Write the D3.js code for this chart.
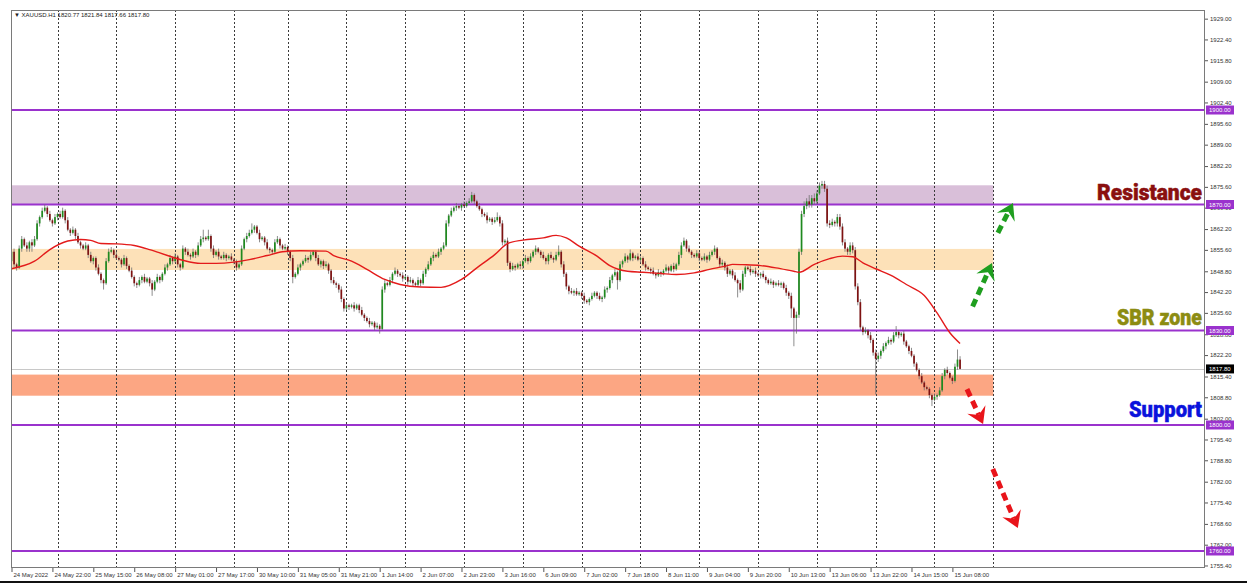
<!DOCTYPE html>
<html><head><meta charset="utf-8">
<script src="https://cdn.jsdelivr.net/npm/d3@7"></script>
<style>body{margin:0;background:#fff}svg{display:block}</style>
</head><body><svg id="c" width="1247" height="583"></svg>
<script>
// ---------- DATA ----------
const symbolTitle = "XAUUSD.H1";
const lastOHLC = ["1820.77", "1821.84", "1817.66", "1817.80"];
const firstOpen = 1852;
const closes = [
1855,1851,1850,1856,1859,1857,1856,1858,1857,1859,
1864,1866,1868,1869,1867,1865,1864,1866,1867,1866,
1868,1865,1862,1861,1862,1860,1858,1857,1856,1857,
1854,1852,1853,1850,1848,1846,1845,1852,1855,1855.5,
1854,1853,1852.5,1851,1853,1850.5,1849,1847,1845,1844.5,
1846,1847,1845.5,1846.5,1845,1843,1845.5,1847,1846,1848,
1850,1851,1853,1852,1853.5,1851,1850,1856,1855,1854,
1853.5,1855,1854,1857,1859,1859.5,1859,1860,1856,1854,
1855,1853.5,1853,1854,1853,1853.5,1852.5,1852,1850,1851,
1856,1859,1860,1861,1862,1863,1861,1859,1859.5,1858,
1856,1855.5,1855,1858,1859,1857,1856,1856.5,1855,1853,
1847,1848,1850,1851,1852,1853,1852.5,1854,1855,1853,
1851,1852,1850.5,1851,1849,1846,1845,1844.5,1843,1840,
1837,1838,1837.5,1838,1837,1838,1836.5,1835,1834,1833,
1832,1832.5,1831,1831.5,1830.5,1843,1845,1844.5,1846,1848,
1849,1848,1847.5,1846.5,1847,1845.5,1846,1845,1844.5,1846,
1845,1848,1849.5,1851,1853,1854,1853.5,1855,1856,1857,
1864,1866.5,1868,1869,1869.5,1869,1870,1869.5,1870.5,1871,
1873,1871,1869.5,1868.5,1867,1866.5,1865,1865.5,1864.5,1865,
1866,1864,1858,1858.5,1851.5,1849.5,1850.5,1850,1851,1850.5,
1852,1853,1852,1853.5,1855,1856,1855,1854,1853,1852,
1854,1853,1852.5,1854,1855,1851,1848,1844,1842.5,1842,
1842.5,1841.5,1842,1841,1839.5,1839,1840,1841,1842,1841,
1840,1840.5,1843,1843.5,1846,1847.5,1848.5,1846,1851,1852,
1853.5,1852.5,1854.5,1853,1853.5,1852.5,1853,1851,1850,1849.5,
1849,1848,1847.5,1848.5,1848,1849,1850,1849,1850.5,1849.5,
1851,1854,1857,1858.5,1856,1855,1854,1853.5,1854.5,1853,
1852.5,1853.5,1852.5,1854,1855,1856,1853,1851,1851.5,1850,
1848,1849,1847.5,1846,1845,1843,1848,1850,1849.5,1848.5,
1849,1848,1847.5,1848,1847,1846,1845,1845.5,1844.5,1845,
1844.5,1845,1843.5,1842,1841,1837,1834,1835,1855,1867,
1869.5,1871,1870,1872,1871,1873.5,1876,1876.5,1875,1864,
1863.5,1864.5,1864,1866,1863,1858,1856,1855,1857,1855.5,
1844,1839,1831,1829.5,1830,1828.5,1827,1823,1821,1822,
1823.5,1825,1826,1827,1826.5,1828.5,1829.5,1828.5,1829,1826.5,
1825,1823.5,1822,1819.5,1817.5,1815.5,1813.5,1812,1811.5,1809.5,
1808,1809,1809.5,1811,1815.5,1817.5,1816.5,1815,1814,1818.5,
1820.77,1817.8
];
const upperWick = [
1.5,1,0.5,1,1,0.5,1,0.5,1,1, 1,0.5,1,1,0.5,1,0.5,1,0.5,1,
1,0.5,1,0.5,1,0.5,1,0.5,0.5,1, 0.5,1,0.5,0.5,1,0.5,0.5,1,1,1,
0.5,1,0.5,0.5,1,0.5,0.5,1,0.5,0.5, 1,0.5,1,0.5,0.5,1,0.5,1,0.5,0.5,
1,0.5,1,0.5,1,0.5,0.5,1,0.5,1, 0.5,1,0.5,1,1,2.5,0.5,2,0.5,1,
0.5,1,0.5,1,0.5,0.5,1,0.5,0.5,1, 1,0.5,1,1,2,0.5,0.5,1,0.5,0.5,
1,0.5,0.5,1,1,0.5,0.5,1,0.5,0.5, 1,0.5,1,0.5,0.5,1,0.5,1,0.5,0.5,
1,0.5,0.5,1,0.5,0.5,1,0.5,0.5,1, 0.5,1,0.5,0.5,1,0.5,0.5,1,0.5,0.5,
1,0.5,0.5,1,0.5,1,1,0.5,1,0.5, 1,0.5,0.5,1,0.5,0.5,1,0.5,0.5,1,
0.5,1,0.5,1,0.5,1,0.5,1,0.5,1, 1,0.5,1,0.5,1,0.5,0.5,1,0.5,1,
1,0.5,0.5,1,0.5,0.5,1,0.5,0.5,1, 1.5,0.5,1,0.5,1,0.5,1,0.5,0.5,1,
0.5,1,0.5,1,0.5,1,0.5,0.5,1,0.5, 0.5,1,0.5,1,2,0.5,1,0.5,0.5,1,
0.5,1,0.5,0.5,1,0.5,0.5,1,0.5,0.5, 1,0.5,1,0.5,1,0.5,1,0.5,1,0.5,
1,0.5,1.2,0.5,0.5,1,0.5,0.5,1,0.5, 0.5,1,0.5,1,0.5,0.5,1,0.5,0.5,1,
0.5,1,1,1,0.5,1,0.5,0.5,1,0.5, 0.5,1,0.5,1,0.5,1,0.5,0.5,1,0.5,
1,0.5,0.5,1,0.5,1,1,0.5,0.5,1, 0.5,1,0.5,0.5,1,0.5,0.5,1,0.5,0.5,
1,0.5,0.5,1,0.5,1,0.5,1,1,1, 1.5,1,2,1,1.5,1,1,1,1,1,
1,1,0.5,1,1,1,1,0.5,1,1, 1,1,1,0.5,1,0.5,1,0.5,1,1,
0.5,1,0.5,1,0.5,1,1.9,0.5,0.5,1, 0.5,0.5,1,0.5,0.5,0.5,1,0.5,0.5,0.5,
0.5,1,0.5,1,1,0.5,1,0.5,0.5,1, 3.2,1.07
];
const lowerWick = [
2,1,1,0.5,1,0.5,1,1,2,0.5, 0.5,1,0.5,0.5,1,0.5,1,0.5,1,0.5,
0.5,1,0.5,1,0.5,1,0.5,1,0.5,0.5, 1,0.5,1,1,0.5,1,2,0.5,0.5,0.5,
1,0.5,0.5,1,0.5,1,0.5,0.5,1,1, 0.5,1,0.5,0.5,1,2,0.5,0.5,1,0.5,
0.5,1,0.5,1,0.5,1,1,0.5,1,0.5, 1,0.5,1,0.5,0.5,1,0.5,0.5,1,1,
0.5,1,0.5,0.5,1,0.5,0.5,1,1,0.5, 0.5,0.5,1,0.5,0.5,1,0.5,1,0.5,1,
0.5,1,1,0.5,0.5,1,0.5,0.5,1,1, 2,0.5,0.5,1,0.5,0.5,1,0.5,0.5,1,
0.5,1,1,0.5,1,1,0.5,1,1,1, 1,0.5,1,0.5,1,0.5,1,0.5,1,0.5,
1,0.5,1,0.5,1.5,0.5,1,0.5,0.5,1, 0.5,1,0.5,1,0.5,1,0.5,1,0.5,0.5,
1,0.5,1,0.5,0.5,1,0.5,0.5,1,0.5, 0.5,1,0.5,0.5,1,0.5,1,0.5,0.5,0.5,
0.5,1,0.5,0.5,1,0.5,1,0.5,1,0.5, 0.5,1,1,1,1,1,0.5,1,0.5,1,
1,0.5,1,0.5,0.5,1,0.5,1,0.5,1, 1,0.5,1,0.5,0.5,1,1,1,1,0.5,
1,0.5,0.5,1,1,0.5,1,0.5,0.5,1, 0.5,1,0.5,1,0.5,1,0.5,3,0.5,1,
0.5,1,0.5,1,0.5,0.5,1,0.5,1,0.5, 1,0.5,1,0.5,1,0.5,0.5,1,0.5,1,
0.5,0.5,1,0.5,1,0.5,1,0.5,0.5,1, 0.5,0.5,1,0.5,0.5,1,0.5,1,0.5,1,
1,0.5,1,0.5,4.5,1,0.5,1,0.5,1, 0.5,1,0.5,1,0.5,1,0.5,0.5,1,0.5,
0.5,1,0.5,1,1,3,9,5,1,1, 1,1,1,1,1,1,0.5,1,1,1,
1,0.5,1,1,1,1,1,1,1,1, 1,1,1,1,0.5,1,1,1,11.3,1,
1,0.5,1,0.5,1,0.5,0.5,1,0.5,1, 0.5,1,0.5,1,0.5,1,0.5,1,0.5,1,
2,0.5,1,0.5,0.5,1,0.5,0.5,1,0.5, 1,0.14
];
// moving average (bar index, value)
const maBars = [0,9,15,22,27,31,35,41,48,54,61,67,74,80,87,93,100,106,113,123,126,133,139,146,152,160,168,176,182,189,194,200,208,213,217,222,229,234,241,247,254,260,267,273,280,282,286,293,299,306,308,314,320,325,329,333,338,344,350,357,362,367,371];
const maValues = [1849.6,1852,1855.7,1858.4,1858.9,1858.6,1857.6,1857.5,1857,1855.7,1853.8,1852.3,1851.3,1851.3,1851.7,1852.5,1853.8,1855,1855.3,1855.2,1853.8,1852,1849.4,1846.2,1844.6,1843.8,1843.7,1846.2,1849.9,1854.1,1857.6,1858.7,1859.4,1860.2,1859.4,1856.8,1853.6,1850.6,1848.8,1848.5,1848.1,1847.8,1848.3,1849.4,1850.6,1851,1850.9,1850.6,1849.9,1848.8,1848.5,1851,1852.8,1853.6,1853.4,1851.5,1849.6,1847.5,1844.6,1841.1,1835.6,1829.3,1825.9];

const timeLabels = ["24 May 2022","24 May 22:00","25 May 15:00","26 May 08:00","27 May 01:00","27 May 17:00","30 May 10:00","31 May 05:00","31 May 21:00","1 Jun 14:00","2 Jun 07:00","2 Jun 23:00","3 Jun 16:00","6 Jun 09:00","7 Jun 02:00","7 Jun 18:00","8 Jun 11:00","9 Jun 04:00","9 Jun 20:00","10 Jun 13:00","13 Jun 06:00","13 Jun 22:00","14 Jun 15:00","15 Jun 08:00"];
const timeLabelBars = [0,16,32,48,64,80,96,112,128,144,160,176,192,208,224,240,256,272,288,304,320,336,352,368];
const daySeparatorBars = [18,41,64,87,108,131,154,177,200,223,246,269,292,315,338,361,384];

const priceTicks = [1929.00,1922.40,1915.80,1909.00,1902.40,1895.60,1889.00,1882.20,1875.60,1869.00,1862.20,1855.60,1848.80,1842.20,1835.60,1828.80,1822.20,1815.40,1808.80,1802.00,1795.40,1788.80,1782.00,1775.40,1768.60,1762.00,1755.40];

const levels = [1900, 1870, 1830, 1800, 1760];
const currentPrice = 1817.80;

const zoneLow  = [1870.0, 1849.2, 1809.3];
const zoneHigh = [1876.1, 1855.9, 1816.0];
const zoneEndBar = 384;

const annotationText  = ["Resistance", "SBR zone", "Support"];
const annotationLevel = [1870, 1830, 1800];

const arrowKind    = ["up", "up", "down", "down"];
const arrowFromBar = [375.9, 385.8, 373.7, 383.8];
const arrowFromVal = [1837.6, 1861.0, 1811.4, 1786.0];
const arrowToBar   = [383.5, 391.7, 380.0, 393.6];
const arrowToVal   = [1851.4, 1870.5, 1800.3, 1767.3];

// ---------- STYLE / LAYOUT ----------
const W = 1247, H = 583;
const L = 11, R = 1205, T = 10, B = 568;
const bullColor = "#1f8a1f", bearColor = "#7e1212", wickColor = "#707070";
const levelColor = "#9a32cd";
const zoneColors = ["#d9bfd9", "#fde1b8", "#fca683"];
const annColors = ["#8a0f0f", "#8c8c12", "#0a12dc"];
const annWidths = [105, 85, 73];
const annOffsets = [5, 5, 8];
const arrowColors = {up: "#1f9e1f", down: "#e8141a"};
const smallFont = "'Liberation Sans', Arial, sans-serif";

const svg = d3.select("#c");
svg.append("rect").attr("width", W).attr("height", H).attr("fill", "#fff");

const x = d3.scaleLinear().domain([-0.2, 466.8]).range([L, R]);
const y = d3.scaleLinear().domain([1754.6, 1931.75]).range([B, T]);

svg.append("defs").append("clipPath").attr("id", "clip")
  .append("rect").attr("x", L).attr("y", T).attr("width", R - L).attr("height", B - T);
const plot = svg.append("g").attr("clip-path", "url(#clip)");

// zones
plot.selectAll("rect.zone").data(zoneLow).join("rect").attr("class", "zone")
  .attr("x", L).attr("width", (d, i) => x(zoneEndBar) - L)
  .attr("y", (d, i) => y(zoneHigh[i])).attr("height", (d, i) => y(zoneLow[i]) - y(zoneHigh[i]))
  .attr("fill", (d, i) => zoneColors[i]);

// day separators
plot.selectAll("line.sep").data(daySeparatorBars).join("line")
  .attr("x1", d => Math.round(x(d)) + 0.5).attr("x2", d => Math.round(x(d)) + 0.5)
  .attr("y1", T).attr("y2", B).attr("stroke", "#3a3a3a").attr("stroke-width", 1)
  .attr("stroke-dasharray", "2,2");

// current price line
plot.append("line").attr("x1", L).attr("x2", R)
  .attr("y1", Math.round(y(currentPrice)) + 0.5).attr("y2", Math.round(y(currentPrice)) + 0.5)
  .attr("stroke", "#c8c8c8").attr("stroke-width", 1);

// horizontal levels
plot.selectAll("line.lvl").data(levels).join("line")
  .attr("x1", L).attr("x2", R).attr("y1", d => y(d)).attr("y2", d => y(d))
  .attr("stroke", levelColor).attr("stroke-width", 1.8);

// candles
const bars = closes.map((c, i) => {
  const o = i === 0 ? firstOpen : closes[i - 1];
  return {i, o, c, h: Math.max(o, c) + upperWick[i], l: Math.min(o, c) - lowerWick[i]};
});
const cg = plot.append("g");
cg.selectAll("line.wick").data(bars).join("line")
  .attr("x1", d => x(d.i)).attr("x2", d => x(d.i))
  .attr("y1", d => y(d.h)).attr("y2", d => y(d.l))
  .attr("stroke", wickColor).attr("stroke-width", 0.8);
cg.selectAll("rect.body").data(bars).join("rect")
  .attr("x", d => x(d.i) - 0.85).attr("width", 1.7)
  .attr("y", d => y(Math.max(d.o, d.c)))
  .attr("height", d => Math.max(0.8, Math.abs(y(d.o) - y(d.c))))
  .attr("fill", d => d.c >= d.o ? bullColor : bearColor);

// moving average
const maPts = maBars.map((b, i) => [b, maValues[i]]);
plot.append("path").datum(maPts)
  .attr("d", d3.line().x(d => x(d[0])).y(d => y(d[1])).curve(d3.curveMonotoneX))
  .attr("fill", "none").attr("stroke", "#e31b1b").attr("stroke-width", 1.4);

// arrows
arrowKind.forEach((k, i) => {
  const x1 = x(arrowFromBar[i]), y1 = y(arrowFromVal[i]);
  const x2 = x(arrowToBar[i]), y2 = y(arrowToVal[i]);
  const ang = Math.atan2(y2 - y1, x2 - x1);
  const headLen = 12;
  const xe = x2 - Math.cos(ang) * headLen * 0.85, ye = y2 - Math.sin(ang) * headLen * 0.85;
  svg.append("line").attr("x1", x1).attr("y1", y1).attr("x2", xe).attr("y2", ye)
    .attr("stroke", arrowColors[k]).attr("stroke-width", 5).attr("stroke-dasharray", "8,5");
  svg.append("path").attr("d", "M0,0 L-16,-10 L-10,0 L-16,10 Z")
    .attr("transform", `translate(${x2},${y2}) rotate(${ang * 180 / Math.PI})`)
    .attr("fill", arrowColors[k]);
});

// annotations
svg.selectAll("text.ann").data(annotationText).join("text")
  .attr("x", 1202).attr("y", (d, i) => y(annotationLevel[i]) - annOffsets[i])
  .attr("text-anchor", "end").attr("font-family", "Roboto, 'Noto Sans', sans-serif")
  .attr("font-weight", 900).attr("font-size", 22)
  .attr("textLength", (d, i) => annWidths[i]).attr("lengthAdjust", "spacingAndGlyphs")
  .attr("fill", (d, i) => annColors[i])
  .attr("stroke", (d, i) => annColors[i]).attr("stroke-width", 0.5)
  .text(d => d);

// frame
svg.append("rect").attr("x", L + 0.5).attr("y", T + 0.5).attr("width", R - L - 1).attr("height", B - T - 1)
  .attr("fill", "none").attr("stroke", "#7a7a7a").attr("stroke-width", 1);

// right axis
const yAxis = d3.axisRight(y).tickValues(priceTicks).tickFormat(d3.format(".2f")).tickSize(3).tickPadding(2);
const ya = svg.append("g").attr("transform", `translate(${R},0)`).call(yAxis);
ya.select(".domain").remove();
ya.selectAll(".tick line").attr("stroke", "#555");
ya.selectAll("text").attr("font-family", smallFont).attr("font-size", 6).attr("fill", "#333");

// bottom axis
const xAxis = d3.axisBottom(x).tickValues(timeLabelBars).tickFormat((d, i) => timeLabels[i]).tickSize(4).tickPadding(1);
const xa = svg.append("g").attr("transform", `translate(0,${B})`).call(xAxis);
xa.select(".domain").remove();
xa.selectAll(".tick line").attr("stroke", "#555");
xa.selectAll("text").attr("text-anchor", "start").attr("x", 1.5)
  .attr("font-family", smallFont).attr("font-size", 6).attr("fill", "#333");

// level price boxes
const lb = svg.append("g");
levels.forEach(v => {
  lb.append("rect").attr("x", R + 1).attr("y", y(v) - 4.5).attr("width", 28).attr("height", 9).attr("fill", levelColor);
  lb.append("text").attr("x", R + 4).attr("y", y(v) + 2.2).attr("font-family", smallFont)
    .attr("font-size", 6).attr("fill", "#fff").text(d3.format(".2f")(v));
});
lb.append("rect").attr("x", R + 1).attr("y", y(currentPrice) - 4.5).attr("width", 28).attr("height", 9).attr("fill", "#000");
lb.append("text").attr("x", R + 4).attr("y", y(currentPrice) + 2.2).attr("font-family", smallFont)
  .attr("font-size", 6).attr("fill", "#fff").text(d3.format(".2f")(currentPrice));

// header
svg.append("text").attr("x", 14).attr("y", 17).attr("font-family", smallFont).attr("font-size", 6).attr("fill", "#222")
  .text("\u25BC " + symbolTitle + "  " + lastOHLC.join(" "));

// bottom dark strip
svg.append("rect").attr("x", 0).attr("y", 581).attr("width", W).attr("height", 2).attr("fill", "#111");
</script></body></html>
